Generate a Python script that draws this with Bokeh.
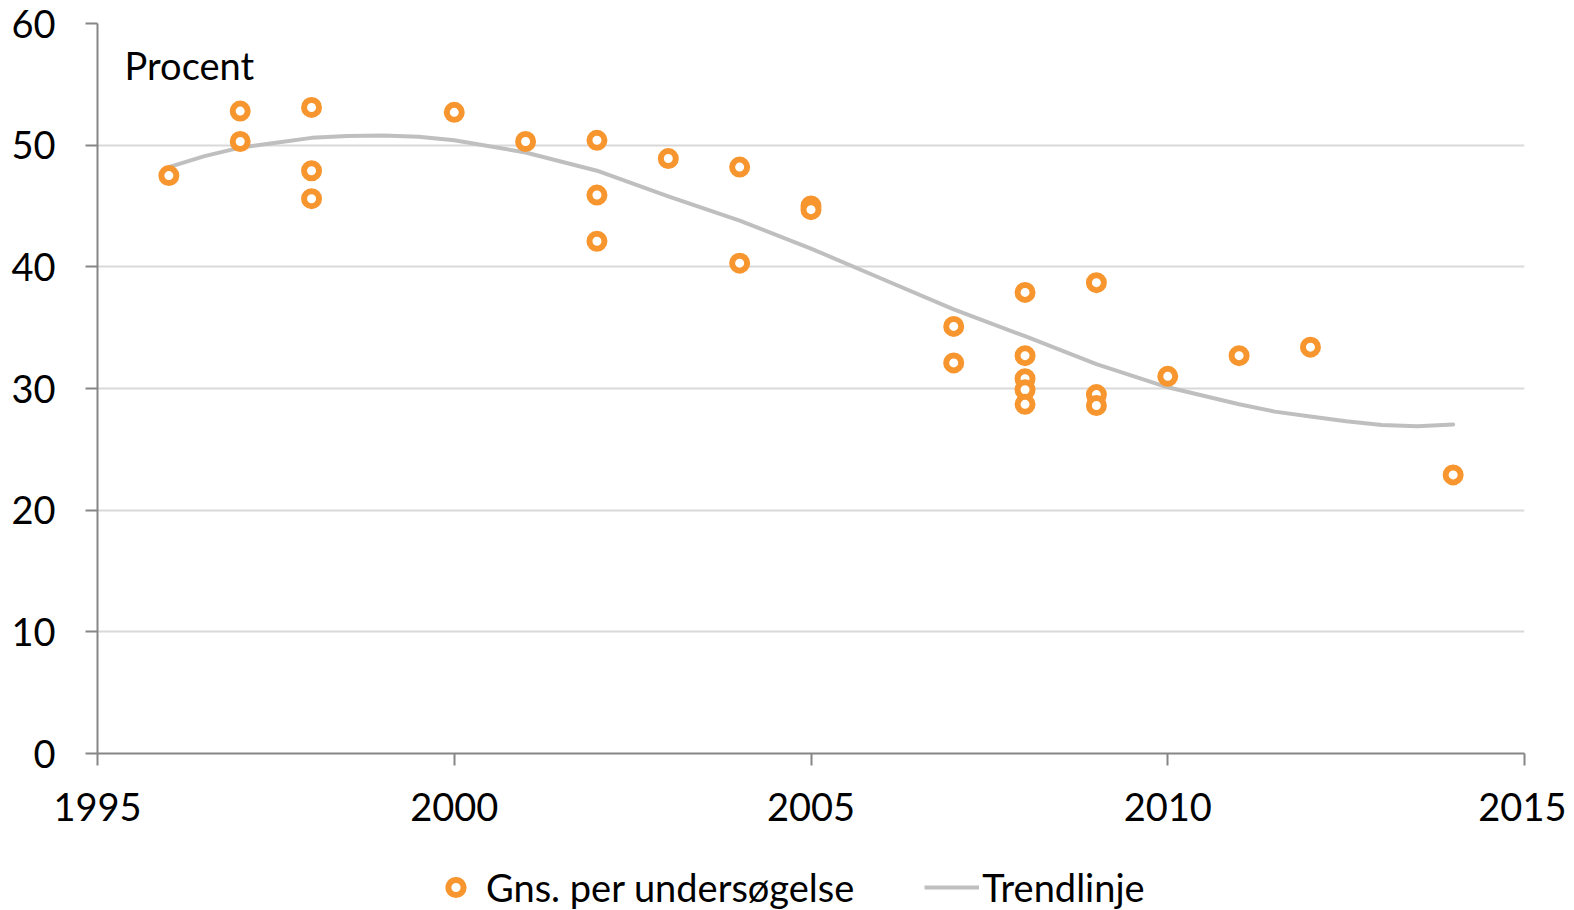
from bokeh.plotting import figure
from bokeh.layouts import column
from bokeh.models import ColumnDataSource, Legend, LegendItem, FixedTicker, Range1d, Label
from bokeh.embed import file_html
from bokeh.resources import INLINE

# Survey averages (year, percent)
years = [1996, 1997, 1997, 1998, 1998, 1998, 2000, 2001, 2002, 2002, 2002,
         2003, 2004, 2004, 2005, 2005, 2007, 2007,
         2008, 2008, 2008, 2008, 2008, 2009, 2009, 2009, 2010, 2011, 2012, 2014]
values = [47.5, 52.8, 50.3, 53.1, 47.9, 45.6, 52.7, 50.3, 50.4, 45.9, 42.1,
          48.9, 48.2, 40.3, 45.0, 44.7, 35.1, 32.1,
          37.9, 32.7, 30.8, 29.9, 28.7, 38.7, 29.5, 28.6, 31.0, 32.7, 33.4, 22.9]

# Trend line
trend_years = [1996, 1996.5, 1997, 1997.5, 1998, 1998.5, 1999, 1999.5, 2000, 2001,
               2002, 2003, 2004, 2005, 2006, 2007, 2008, 2009, 2010, 2011,
               2011.5, 2012, 2012.5, 2013, 2013.5, 2014]
trend_values = [48.2, 49.1, 49.8, 50.2, 50.6, 50.75, 50.8, 50.7, 50.4, 49.4,
                47.9, 45.8, 43.8, 41.5, 39.0, 36.5, 34.3, 32.0, 30.1, 28.7,
                28.1, 27.7, 27.3, 27.0, 26.9, 27.05]

x_ticks = [1995, 2000, 2005, 2010, 2015]
y_ticks = [0, 10, 20, 30, 40, 50, 60]
series_labels = ["Gns. per undersøgelse", "Trendlinje"]

FONT = "Lato"
ORANGE = "#F7962F"
GREY_TREND = "#BFBFBF"

p = figure(width=1566, height=830, output_backend="svg", toolbar_location=None,
           x_range=Range1d(1995, 2015), y_range=Range1d(0, 60),
           min_border_left=97, min_border_right=42, min_border_top=23, min_border_bottom=77)
p.outline_line_color = None
p.background_fill_color = "white"

src_pts = ColumnDataSource(dict(x=years, y=values))
src_tr = ColumnDataSource(dict(x=trend_years, y=trend_values))

pt_style = dict(size=15, fill_color="white", line_color=ORANGE, line_width=6)
ln_style = dict(line_color=GREY_TREND, line_width=4, line_cap="round", line_join="round")

p.line("x", "y", source=src_tr, **ln_style)
p.scatter("x", "y", source=src_pts, **pt_style)

for ax in (p.xaxis[0], p.yaxis[0]):
    ax.axis_line_color = "#868686"
    ax.axis_line_width = 2
    ax.major_tick_line_color = "#868686"
    ax.major_tick_line_width = 2
    ax.minor_tick_line_color = None
    ax.major_tick_in = 0
    ax.major_tick_out = 12
    ax.major_label_text_font = FONT
    ax.major_label_text_font_size = "38px"
    ax.major_label_text_color = "black"

p.xaxis[0].ticker = FixedTicker(ticks=x_ticks)
p.yaxis[0].ticker = FixedTicker(ticks=y_ticks)
p.xaxis[0].major_label_standoff = 27
p.yaxis[0].major_label_standoff = 30

p.xgrid.visible = False
p.ygrid.ticker = FixedTicker(ticks=y_ticks)
p.ygrid.grid_line_color = "#D9D9D9"
p.ygrid.grid_line_width = 2

p.add_layout(Label(x=1995.38, y=56.6, text="Procent", text_font=FONT,
                   text_font_size="38px", text_color="black", text_baseline="middle"))

# Legend strip below the chart (legend-only renderers sit outside the visible range)
lg = figure(width=1566, height=80, output_backend="svg", toolbar_location=None,
            x_range=Range1d(0, 1), y_range=Range1d(0, 1),
            x_axis_type=None, y_axis_type=None,
            min_border_left=0, min_border_right=0, min_border_top=0, min_border_bottom=0)
lg.outline_line_color = None
lg.grid.visible = False
lg_pts = lg.scatter(x=[-5], y=[-5], **pt_style)
lg_line = lg.line(x=[-5, -4], y=[-5, -5], line_color=GREY_TREND, line_width=4)

legend = Legend(items=[LegendItem(label=series_labels[0], renderers=[lg_pts]),
                       LegendItem(label=series_labels[1], renderers=[lg_line])],
                orientation="horizontal", location=(331, 0),
                label_text_font=FONT, label_text_font_size="38px", label_text_color="black",
                glyph_width=55, glyph_height=38, label_standoff=3, spacing=70,
                border_line_color=None, background_fill_alpha=0, margin=0, padding=2)
lg.add_layout(legend, "center")

layout = column(p, lg, spacing=0)
open("out.html", "w").write(file_html(layout, INLINE))
